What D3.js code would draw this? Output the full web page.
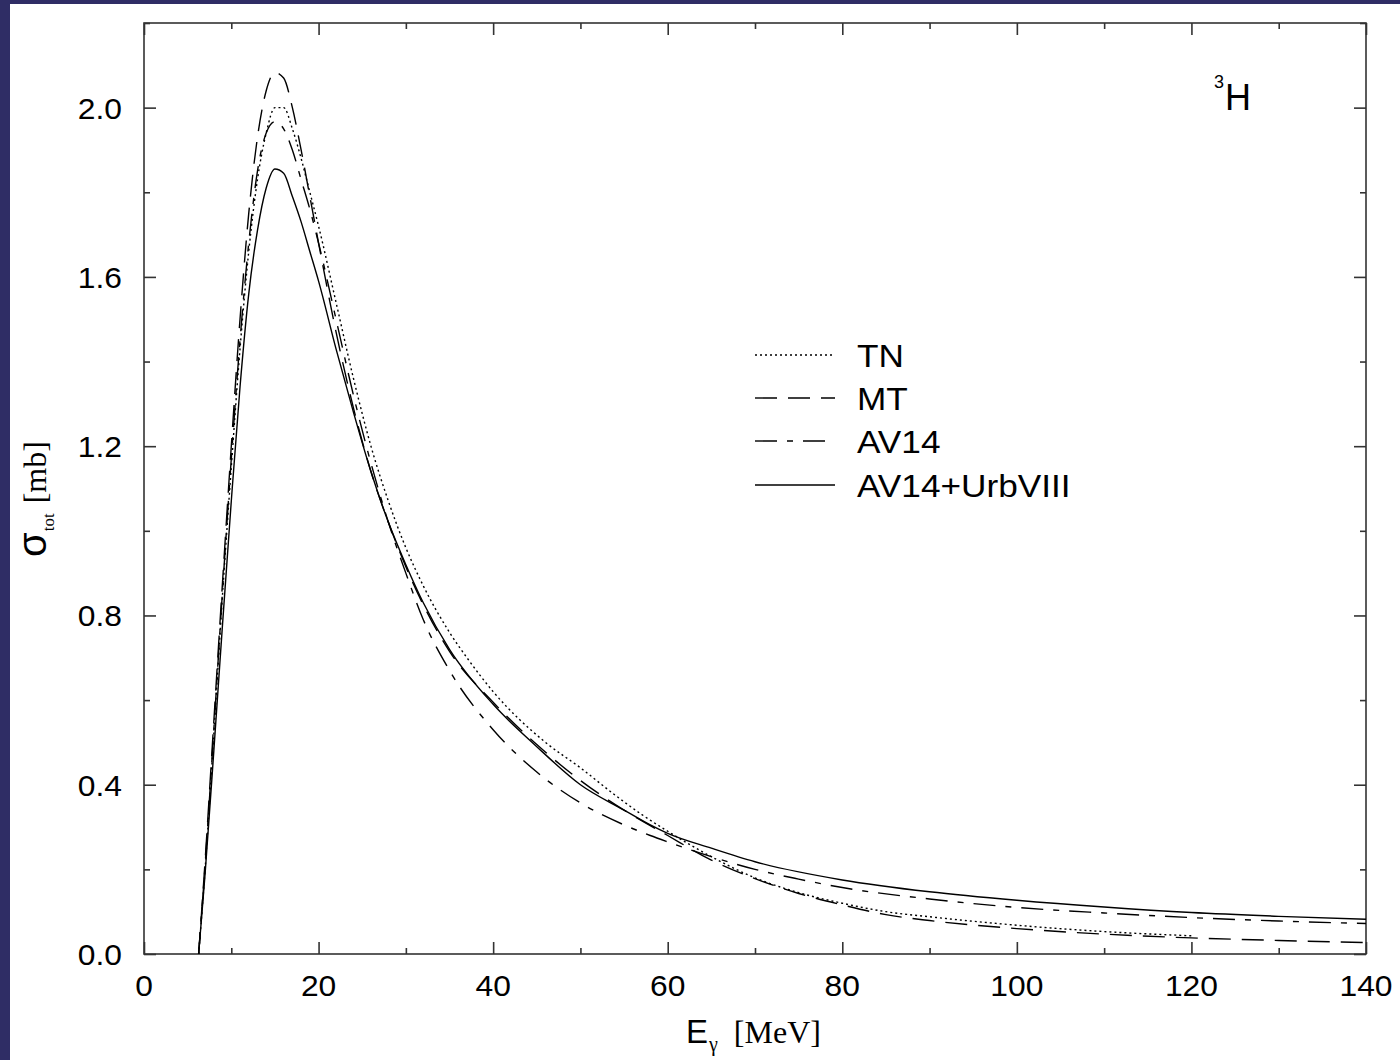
<!DOCTYPE html>
<html>
<head>
<meta charset="utf-8">
<script src="https://cdn.jsdelivr.net/npm/d3@7"></script>
<style>
html,body{margin:0;padding:0;background:#2f2d65;}
svg{display:block;}
</style>
</head>
<body>
<svg id="chart" width="1400" height="1060"></svg>
<script>
// ---- data (E in MeV, sigma in mb) ----
const seriesNames = ["TN", "MT", "AV14", "AV14+UrbVIII"];

const tnE = [6.26,7,8,9,10,11,12,13,14,15,16,17,18,19,20,22,24,26,28,30,32,35,37,40,46,50,54,57,60,65,70,75,80,85,90,100,110,120];
const tnS = [0,0.2,0.52,0.85,1.15,1.43,1.66,1.83,1.94,2.0,2.0,1.95,1.88,1.80,1.72,1.54,1.36,1.2,1.07,0.96,0.87,0.76,0.70,0.62,0.50,0.44,0.375,0.33,0.29,0.23,0.18,0.145,0.12,0.1,0.088,0.068,0.053,0.043];

const mtE = [6.26,7,8,9,10,11,12,13,14,15,16,17,18,19,20,22,24,26,28,30,32,35,40,45,50,55,60,65,70,75,80,85,90,100,110,120,130,140];
const mtS = [0,0.22,0.55,0.88,1.2,1.5,1.75,1.93,2.04,2.083,2.07,2.0,1.9,1.79,1.68,1.47,1.29,1.14,1.02,0.915,0.825,0.715,0.595,0.495,0.41,0.34,0.28,0.222,0.178,0.143,0.116,0.093,0.079,0.06,0.047,0.038,0.032,0.027];

const av14E = [6.26,7,8,9,10,11,12,13,14,15,16,17,18,19,20,22,24,26,28,30,32,35,40,45,50,55,58,60,65,70,75,80,90,100,110,120,130,140];
const av14S = [0,0.21,0.53,0.86,1.17,1.45,1.68,1.85,1.94,1.967,1.95,1.9,1.83,1.76,1.68,1.5,1.32,1.16,1.02,0.9,0.79,0.67,0.53,0.43,0.357,0.305,0.28,0.265,0.23,0.2,0.177,0.157,0.13,0.11,0.097,0.086,0.078,0.072];

const urbE = [6.26,7,8,9,10,11,12,13,14,15,16,17,18,19,20,22,24,26,28,30,32,35,40,45,50,55,58,60,65,70,80,90,100,110,120,130,140];
const urbS = [0,0.19,0.48,0.78,1.07,1.34,1.56,1.71,1.81,1.855,1.845,1.79,1.73,1.66,1.59,1.43,1.28,1.14,1.02,0.92,0.83,0.72,0.59,0.49,0.40,0.34,0.305,0.285,0.25,0.218,0.175,0.147,0.127,0.111,0.098,0.089,0.082];

const xMajorTicks = [0,20,40,60,80,100,120,140];
const xMinorTicks = [10,30,50,70,90,110,130];
const yMajorTicks = [0.0,0.4,0.8,1.2,1.6,2.0];
const yMinorTicks = [0.2,0.6,1.0,1.4,1.8,2.2];

const dashes = ["2,3", "22,11", "22,10,6,10", null];

// ---- layout ----
const svg = d3.select("#chart");
const L = 144, R = 1366, T = 23, B = 954;

svg.append("rect").attr("x", 10).attr("y", 4).attr("width", 1390).attr("height", 1056).attr("fill", "#ffffff");

const x = d3.scaleLinear().domain([0, 140]).range([L, R]);
const y = d3.scaleLinear().domain([0, 2.2]).range([B, T]);

const axisColor = "#333";
const g = svg.append("g");

// frame
g.append("rect").attr("x", L).attr("y", T).attr("width", R - L).attr("height", B - T)
  .attr("fill", "none").attr("stroke", axisColor).attr("stroke-width", 1.6);

// ticks via d3 axes (inward)
function styleAxis(sel) {
  sel.select(".domain").remove();
  sel.selectAll(".tick line").attr("stroke", axisColor).attr("stroke-width", 1.6);
  sel.selectAll("text").remove();
}
g.append("g").attr("transform", `translate(0,${B})`)
  .call(d3.axisTop(x).tickValues(xMajorTicks).tickSize(12)).call(styleAxis);
g.append("g").attr("transform", `translate(0,${B})`)
  .call(d3.axisTop(x).tickValues(xMinorTicks).tickSize(6)).call(styleAxis);
g.append("g").attr("transform", `translate(0,${T})`)
  .call(d3.axisBottom(x).tickValues(xMajorTicks).tickSize(12)).call(styleAxis);
g.append("g").attr("transform", `translate(0,${T})`)
  .call(d3.axisBottom(x).tickValues(xMinorTicks).tickSize(6)).call(styleAxis);
g.append("g").attr("transform", `translate(${L},0)`)
  .call(d3.axisRight(y).tickValues(yMajorTicks).tickSize(12)).call(styleAxis);
g.append("g").attr("transform", `translate(${L},0)`)
  .call(d3.axisRight(y).tickValues(yMinorTicks).tickSize(6)).call(styleAxis);
g.append("g").attr("transform", `translate(${R},0)`)
  .call(d3.axisLeft(y).tickValues(yMajorTicks).tickSize(12)).call(styleAxis);
g.append("g").attr("transform", `translate(${R},0)`)
  .call(d3.axisLeft(y).tickValues(yMinorTicks).tickSize(6)).call(styleAxis);

// tick labels
const sans = "'Liberation Sans', Arial, Helvetica, sans-serif";
const serif = "'Liberation Serif', 'Times New Roman', serif";
g.selectAll(".xl").data(xMajorTicks).enter().append("text")
  .attr("transform", d => `translate(${x(d)},996) scale(1.06,1)`).attr("text-anchor", "middle")
  .attr("font-family", sans).attr("font-size", 30).attr("fill", "#000")
  .text(d => d3.format("d")(d));
g.selectAll(".yl").data(yMajorTicks).enter().append("text")
  .attr("transform", d => `translate(122,${y(d) + 11}) scale(1.06,1)`).attr("text-anchor", "end")
  .attr("font-family", sans).attr("font-size", 30).attr("fill", "#000")
  .text(d => d3.format(".1f")(d));

// curves
const datasets = [
  tnE.map((e, i) => [e, tnS[i]]),
  mtE.map((e, i) => [e, mtS[i]]),
  av14E.map((e, i) => [e, av14S[i]]),
  urbE.map((e, i) => [e, urbS[i]])
];
const line = d3.line().x(d => x(d[0])).y(d => y(d[1])).curve(d3.curveMonotoneX);
datasets.forEach((ds, i) => {
  g.append("path").datum(ds).attr("d", line)
    .attr("fill", "none").attr("stroke", "#000").attr("stroke-width", 1.4)
    .attr("stroke-dasharray", dashes[i]);
});

// legend
const legY = [355, 398, 441, 485];
seriesNames.forEach((n, i) => {
  g.append("line").attr("x1", 755).attr("x2", 835).attr("y1", legY[i]).attr("y2", legY[i])
    .attr("stroke", "#000").attr("stroke-width", 1.4).attr("stroke-dasharray", dashes[i]);
  g.append("text").attr("transform", `translate(857,${legY[i] + 12}) scale(1.1,1)`)
    .attr("font-family", sans).attr("font-size", 32).attr("fill", "#000").text(n);
});

// 3H label
const lab = g.append("text").attr("x", 1214).attr("y", 110).attr("font-family", sans).attr("fill", "#000");
lab.append("tspan").attr("font-size", 18).attr("dy", -22).text("3");
lab.append("tspan").attr("font-size", 36).attr("dy", 22).attr("dx", 1).text("H");

// x title
const xt = g.append("text").attr("x", 686).attr("y", 1043).attr("fill", "#000");
xt.append("tspan").attr("font-family", sans).attr("font-size", 33).text("E");
xt.append("tspan").attr("font-family", serif).attr("font-size", 20).attr("dy", 8).attr("dx", 1).text("γ");
xt.append("tspan").attr("font-family", serif).attr("font-size", 32).attr("dy", -8).attr("dx", 16).text("[MeV]");

// y title
const yt = g.append("text").attr("transform", "translate(46,557) rotate(-90)").attr("fill", "#000");
yt.append("tspan").attr("font-family", sans).attr("font-size", 40).text("σ");
yt.append("tspan").attr("font-family", serif).attr("font-size", 17).attr("dy", 8).attr("dx", 1).text("tot");
yt.append("tspan").attr("font-family", serif).attr("font-size", 32).attr("dy", -8).attr("dx", 10).text("[mb]");
</script>
</body>
</html>
